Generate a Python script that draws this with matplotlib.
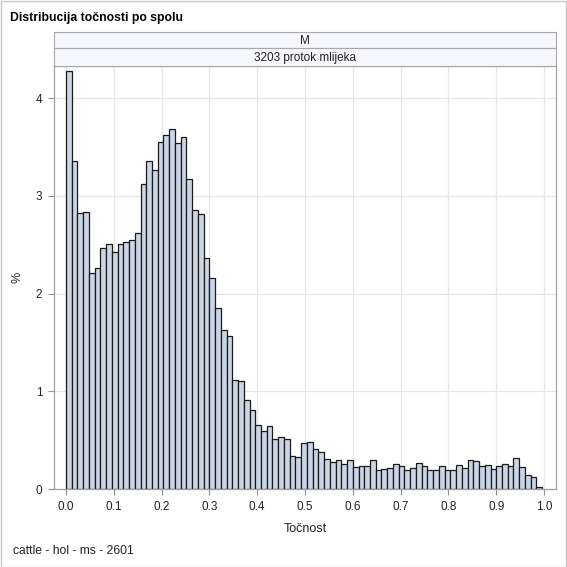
import matplotlib
matplotlib.use("Agg")
from matplotlib import patches, pyplot as plt
import numpy as np

plt.rcParams['font.family'] = ['Liberation Sans', 'DejaVu Sans']

title = 'Distribucija točnosti po spolu'
panel_sex = 'M'
panel_trait = '3203 protok mlijeka'
footnote = 'cattle - hol - ms - 2601'
x_label = 'Točnost'
y_label = '%'

bin_width = 0.012
percent = [
    4.28, 3.36, 2.83, 2.84, 2.21, 2.26, 2.47, 2.51, 2.43, 2.51,
    2.53, 2.55, 2.62, 3.12, 3.36, 3.27, 3.55, 3.62, 3.69, 3.54,
    3.60, 3.17, 2.86, 2.81, 2.36, 2.16, 1.85, 1.63, 1.57, 1.12,
    1.11, 0.91, 0.81, 0.66, 0.59, 0.64, 0.51, 0.53, 0.51, 0.34,
    0.33, 0.47, 0.48, 0.41, 0.38, 0.31, 0.28, 0.30, 0.26, 0.30,
    0.23, 0.24, 0.24, 0.30, 0.19, 0.20, 0.22, 0.26, 0.24, 0.19,
    0.22, 0.27, 0.24, 0.19, 0.19, 0.24, 0.19, 0.19, 0.25, 0.22,
    0.30, 0.29, 0.24, 0.25, 0.20, 0.24, 0.26, 0.24, 0.32, 0.23,
    0.14, 0.12, 0.02,
]
bin_starts = np.arange(len(percent)) * bin_width
x_ticks = np.round(np.arange(0, 1.01, 0.1), 1)
y_ticks = [0, 1, 2, 3, 4]

W = H = 567
fig = plt.figure(figsize=(5.67, 5.67), dpi=100)
fig.patches.append(patches.Rectangle((0.5 / W, 0.5 / H), 1 - 1.5 / W, 1 - 1.5 / H,
                                     transform=fig.transFigure, fill=False,
                                     edgecolor='#C8C8C8', linewidth=1))

fig.text(10 / W, 1 - 18 / H, title, fontsize=8.8, fontweight='bold', va='center', ha='left')

left, right = 54 / W, 556 / W
ax = fig.add_axes([left, 1 - 489 / H, right - left, (489 - 66) / H])

# header strips above the panel
for y0, y1, label in [(32, 48, panel_sex), (48, 66, panel_trait)]:
    hax = fig.add_axes([left, 1 - y1 / H, right - left, (y1 - y0) / H])
    hax.set_facecolor('#F5F7FC')
    hax.set_xticks([])
    hax.set_yticks([])
    for s in hax.spines.values():
        s.set_color('#A8A8A8')
        s.set_linewidth(0.8)
    hax.text(0.5, 0.45, label, ha='center', va='center', fontsize=8.5,
             color='#222222', transform=hax.transAxes)

ax.bar(bin_starts, percent, width=bin_width, align='edge',
       color='#CAD5E5', edgecolor='#1a1a1a', linewidth=0.9, zorder=2)

ax.set_xlim(-0.025, 1.025)
ax.set_ylim(0, 4.33)
ax.set_xticks(x_ticks)
ax.set_xticklabels([f'{t:.1f}' for t in x_ticks])
ax.set_yticks(y_ticks)
ax.grid(True, color='#E6E6E6', linewidth=0.9, zorder=0)
ax.set_axisbelow(True)
ax.tick_params(direction='out', length=4, width=0.8, color='#909090',
               labelsize=8.5, labelcolor='#222222', pad=4.5)
for s in ax.spines.values():
    s.set_color('#A0A0A0')
    s.set_linewidth(0.9)

ax.set_xlabel(x_label, fontsize=9, color='#222222', labelpad=7)
ax.set_ylabel(y_label, fontsize=9, color='#222222', labelpad=9)

fig.text(13 / W, 1 - 551 / H, footnote, fontsize=8.7, color='#222222', va='center', ha='left')

fig.savefig('out.png', dpi=100)
